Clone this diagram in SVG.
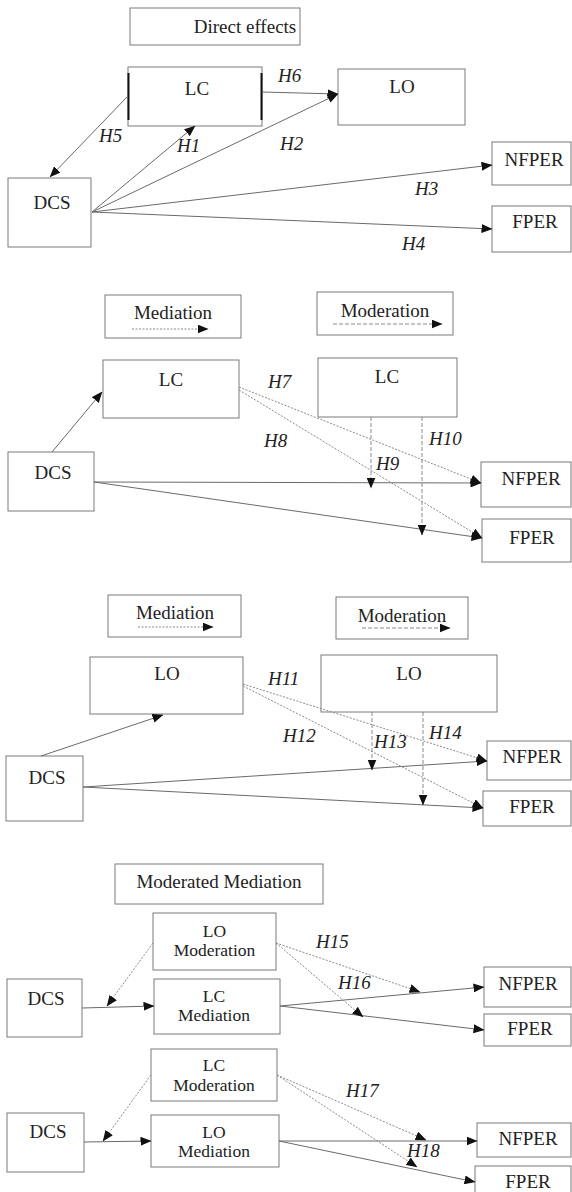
<svg xmlns="http://www.w3.org/2000/svg" width="572" height="1192" viewBox="0 0 572 1192" font-family="'Liberation Serif', 'Times New Roman', serif">
<defs>
<marker id="ah" markerUnits="userSpaceOnUse" markerWidth="11" markerHeight="9" refX="10.5" refY="4.5" orient="auto">
<path d="M0,0 L11,4.5 L0,9 z" fill="#111"/>
</marker>
<style>
rect.b{fill:#fff;stroke:#7a7a7a;stroke-width:1}
text{font-size:19px;fill:#222;text-anchor:middle}
text.t{font-size:17.5px}
text.h{font-style:italic;text-anchor:start}
.c line{stroke:#6a6a6a;stroke-width:1;fill:none;marker-end:url(#ah)}
.c line.dot{stroke:#8a8a8a;stroke-dasharray:2,1.5}
.c line.dash{stroke:#8a8a8a;stroke-dasharray:4,2}
</style>
</defs>
<rect width="572" height="1192" fill="#fff"/>

<!-- Section 1: Direct effects -->
<g id="title1"><rect class="b" x="130" y="8" width="170" height="37"/><text x="245" y="33">Direct effects</text></g>
<g id="s1-LC"><rect class="b" x="128" y="67" width="134" height="59"/><line x1="128.5" y1="73" x2="128.5" y2="120" stroke="#111" stroke-width="2"/><line x1="261.5" y1="73" x2="261.5" y2="120" stroke="#111" stroke-width="2"/><text x="197" y="95">LC</text></g>
<g id="s1-LO"><rect class="b" x="338" y="69" width="127" height="56"/><text x="402" y="93">LO</text></g>
<g id="s1-DCS"><rect class="b" x="8" y="178" width="83" height="69"/><text x="52" y="209">DCS</text></g>
<g id="s1-NFPER"><rect class="b" x="492" y="142" width="79" height="43"/><text x="534" y="166">NFPER</text></g>
<g id="s1-FPER"><rect class="b" x="492" y="206" width="79" height="46"/><text x="535" y="228">FPER</text></g>

<!-- Section 2 -->
<g id="s2-med-legend"><rect class="b" x="105" y="295" width="136" height="43"/><text x="173" y="319">Mediation</text></g>
<g id="s2-mod-legend"><rect class="b" x="317" y="292" width="136" height="43"/><text x="385" y="317">Moderation</text></g>
<g id="s2-LC"><rect class="b" x="103" y="360" width="136" height="58"/><text x="171" y="386">LC</text></g>
<g id="s2-LCmod"><rect class="b" x="318" y="358" width="139" height="59"/><text x="387" y="383">LC</text></g>
<g id="s2-DCS"><rect class="b" x="8" y="452" width="86" height="59"/><text x="53" y="479">DCS</text></g>
<g id="s2-NFPER"><rect class="b" x="481" y="462" width="90" height="45"/><text x="531" y="485">NFPER</text></g>
<g id="s2-FPER"><rect class="b" x="482" y="519" width="89" height="43"/><text x="532" y="544">FPER</text></g>

<!-- Section 3 -->
<g id="s3-med-legend"><rect class="b" x="108" y="595" width="133" height="42"/><text x="175" y="619">Mediation</text></g>
<g id="s3-mod-legend"><rect class="b" x="336" y="597" width="132" height="42"/><text x="402" y="622">Moderation</text></g>
<g id="s3-LO"><rect class="b" x="90" y="657" width="153" height="57"/><text x="167" y="680">LO</text></g>
<g id="s3-LOmod"><rect class="b" x="321" y="655" width="176" height="57"/><text x="409" y="680">LO</text></g>
<g id="s3-DCS"><rect class="b" x="6" y="756" width="77" height="65"/><text x="47" y="784">DCS</text></g>
<g id="s3-NFPER"><rect class="b" x="487" y="741" width="84" height="39"/><text x="532" y="763">NFPER</text></g>
<g id="s3-FPER"><rect class="b" x="483" y="791" width="88" height="35"/><text x="532" y="813">FPER</text></g>

<!-- Section 4 -->
<g id="title4"><rect class="b" x="115" y="864" width="208" height="40"/><text x="219" y="888">Moderated Mediation</text></g>
<g id="s4a-LOmod"><rect class="b" x="153" y="913" width="123" height="57"/><text class="t" x="214.5" y="937">LO</text><text class="t" x="214.5" y="956">Moderation</text></g>
<g id="s4a-LCmed"><rect class="b" x="154" y="979" width="126" height="55"/><text class="t" x="214" y="1002">LC</text><text class="t" x="214" y="1021">Mediation</text></g>
<g id="s4a-DCS"><rect class="b" x="7" y="979" width="75" height="58"/><text x="46" y="1005">DCS</text></g>
<g id="s4a-NFPER"><rect class="b" x="484" y="967" width="87" height="40"/><text x="528" y="990">NFPER</text></g>
<g id="s4a-FPER"><rect class="b" x="484" y="1014" width="87" height="32"/><text x="530" y="1035">FPER</text></g>

<g id="s4b-LCmod"><rect class="b" x="151" y="1049" width="126" height="52"/><text class="t" x="214" y="1071">LC</text><text class="t" x="214" y="1091">Moderation</text></g>
<g id="s4b-LOmed"><rect class="b" x="151" y="1115" width="128" height="52"/><text class="t" x="214" y="1138">LO</text><text class="t" x="214" y="1157">Mediation</text></g>
<g id="s4b-DCS"><rect class="b" x="7" y="1113" width="77" height="59"/><text x="48" y="1138">DCS</text></g>
<g id="s4b-NFPER"><rect class="b" x="477" y="1123" width="94" height="34"/><text x="528" y="1145">NFPER</text></g>
<g id="s4b-FPER"><rect class="b" x="475" y="1166" width="96" height="30"/><text x="528" y="1188">FPER</text></g>

<g id="connectors" class="c">
<!-- section 1 -->
<line x1="127" y1="97" x2="50" y2="177"/>
<line x1="92" y1="212" x2="195" y2="126"/>
<line x1="92" y1="212" x2="338" y2="94"/>
<line x1="262" y1="92" x2="338" y2="94"/>
<line x1="92" y1="212" x2="492" y2="165"/>
<line x1="92" y1="212" x2="492" y2="229"/>
<!-- section 2 -->
<line class="dot" x1="132" y1="329" x2="208" y2="329"/>
<line class="dash" x1="333" y1="324" x2="442" y2="324"/>
<line x1="52" y1="452" x2="102" y2="392"/>
<line x1="94" y1="482" x2="481" y2="483"/>
<line x1="94" y1="482" x2="482" y2="538"/>
<line class="dot" x1="239" y1="387" x2="481" y2="483"/>
<line class="dot" x1="239" y1="390" x2="482" y2="538"/>
<line class="dash" x1="371" y1="417" x2="371" y2="488"/>
<line class="dash" x1="422" y1="417" x2="422" y2="535"/>
<!-- section 3 -->
<line class="dot" x1="138" y1="627" x2="213" y2="627"/>
<line class="dash" x1="362" y1="628" x2="450" y2="628"/>
<line x1="41" y1="756" x2="163" y2="715"/>
<line x1="83" y1="787" x2="487" y2="761"/>
<line x1="83" y1="787" x2="483" y2="808"/>
<line class="dot" x1="243" y1="684" x2="487" y2="761"/>
<line class="dot" x1="243" y1="686" x2="483" y2="808"/>
<line class="dash" x1="372" y1="712" x2="372" y2="770"/>
<line class="dash" x1="423" y1="712" x2="423" y2="805"/>
<!-- section 4a -->
<line x1="82" y1="1008" x2="154" y2="1006"/>
<line class="dot" x1="153" y1="943" x2="107" y2="1006"/>
<line x1="280" y1="1006" x2="484" y2="987"/>
<line x1="280" y1="1006" x2="484" y2="1030"/>
<line class="dot" x1="276" y1="943" x2="420" y2="992"/>
<line class="dot" x1="276" y1="943" x2="363" y2="1017"/>
<!-- section 4b -->
<line x1="84" y1="1142" x2="151" y2="1141"/>
<line class="dot" x1="151" y1="1075" x2="103" y2="1141"/>
<line x1="279" y1="1141" x2="477" y2="1141"/>
<line x1="279" y1="1141" x2="475" y2="1182"/>
<line class="dot" x1="277" y1="1075" x2="426" y2="1140"/>
<line class="dot" x1="277" y1="1075" x2="417" y2="1167"/>
</g>

<g id="labels">
<text class="h" x="278" y="82">H6</text>
<text class="h" x="99" y="142">H5</text>
<text class="h" x="177" y="152">H1</text>
<text class="h" x="280" y="150">H2</text>
<text class="h" x="415" y="195">H3</text>
<text class="h" x="402" y="250">H4</text>
<text class="h" x="268" y="388">H7</text>
<text class="h" x="264" y="447">H8</text>
<text class="h" x="376" y="470">H9</text>
<text class="h" x="429" y="445">H10</text>
<text class="h" x="268" y="685">H11</text>
<text class="h" x="283" y="742">H12</text>
<text class="h" x="374" y="748">H13</text>
<text class="h" x="429" y="739">H14</text>
<text class="h" x="316" y="948">H15</text>
<text class="h" x="338" y="989">H16</text>
<text class="h" x="346" y="1097">H17</text>
<text class="h" x="407" y="1157">H18</text>
</g>
</svg>
